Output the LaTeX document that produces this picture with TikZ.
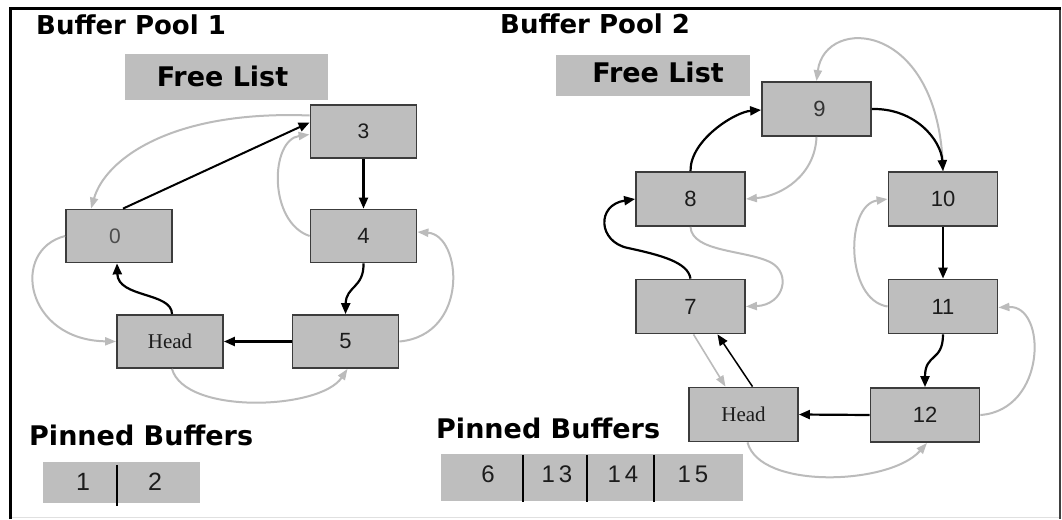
\documentclass[tikz,border=0pt]{standalone}
\usepackage{fontspec}
\setmainfont{Liberation Sans}
\newfontfamily\titlefont{DejaVu Sans}
\newfontfamily\headfont{Liberation Serif}
\usetikzlibrary{arrows.meta,calc}

\definecolor{boxfill}{HTML}{BEBEBE}
\definecolor{boxedge}{HTML}{3C3C3C}
\definecolor{linkgray}{HTML}{BBBBBB}
\definecolor{labelcol}{HTML}{1C1C1C}

\tikzset{
  cell/.style={draw=boxedge, line width=1.8pt, fill=boxfill, inner sep=0pt,
    minimum width=106pt, minimum height=53pt, text=labelcol},
  bigcell/.style={cell, minimum width=109pt, minimum height=54pt},
  panel/.style={fill=boxfill, inner sep=0pt},
  title/.style={anchor=base west, inner sep=0pt,
    font=\titlefont\bfseries\fontsize{26}{30}\selectfont},
  caption/.style={anchor=base west, inner sep=0pt,
    font=\titlefont\bfseries\fontsize{27}{30}\selectfont},
  listlabel/.style={anchor=base, inner sep=0pt,
    font=\titlefont\bfseries\fontsize{27}{30}\selectfont},
  blk/.style={draw=black, line width=2.2pt, -{Triangle[length=11pt,width=9pt]}},
  gry/.style={draw=linkgray, line width=2pt, -{Triangle[length=11pt,width=8pt]}},
  pin/.style={inner sep=0pt, text=labelcol, font=\fontsize{25}{28}\selectfont},
  divider/.style={draw=black, line width=2pt},
  numfont/.style={font=\fontsize{22}{24}\selectfont},
}

\begin{document}
\begin{tikzpicture}[x=1pt,y=-1pt]
  \fill[white] (0,0) rectangle (1062,519);
  \useasboundingbox (0,0) rectangle (1062,519);

  % panel frame
  \draw[black!12, line width=1pt] (10,517.5) -- (1060,517.5);
  \draw[black!75, line width=2pt] (1060,8.5) -- (1060,519);
  \draw[black, line width=3pt] (10,519) -- (10,8.5) -- (1061,8.5);

  % ---------------- Buffer Pool 1 ----------------
  \node[title] (t1) at (36,35) {Buffer Pool 1};
  \node[panel, minimum width=203pt, minimum height=46pt] (fl1) at (226.5,77) {};
  \node[listlabel] at (222.5,86) {Free List};

  \node[cell, font=\fontsize{21}{23}\selectfont] (n3) at (363.5,131.5) {3};
  \node[cell, numfont] (n4) at (363.5,236) {4};
  \node[cell, font=\fontsize{21}{23}\selectfont, text=black!70] (n0) at (119,236) {\kern-8pt 0};
  \node[cell, font=\headfont\fontsize{21}{23}\selectfont] (h1) at (170,341.5) {Head};
  \node[cell, numfont] (n5) at (345.5,341.5) {5};

  % backward (grey) links
  \draw[gry] ($(n3.west)+(0,-16)$) .. controls (170,110) and (105,160) .. ($(n0.north west)+(26,0)$);
  \draw[gry] (n4.west) .. controls (268,222) and (270,140) .. ($(n3.west)+(0,3)$);
  \draw[gry] (n5.east) .. controls (470,335) and (462,235) .. ($(n4.east)+(0,-4)$);
  \draw[gry] ($(h1.south)+(2,0)$) .. controls (185,415) and (320,410) .. ($(n5.south)+(2,0)$);
  \draw[gry] (n0.west) .. controls (10,250) and (25,340) .. (h1.west);

  % forward (black) links
  \draw[blk, line width=2pt] ($(n0.north)+(4,0)$) -- ($(n3.west)+(0,-9)$);
  \draw[blk] (n3.south) -- (n4.north);
  \draw[blk] (n4.south) .. controls (364,288) and (346,286) .. (n5.north);
  \draw[blk] (n5.west) -- (h1.east);
  \draw[blk] ($(h1.north)+(2,0)$) .. controls (172,292) and (118,298) .. ($(n0.south)+(-2,0)$);

  % pinned buffers
  \node[caption] (pb1) at (29,445) {Pinned Buffers};
  \node[panel, minimum width=74pt, minimum height=41pt] (p1a) at (80,482.5) {};
  \node[panel, minimum width=83pt, minimum height=41pt] (p1b) at (158.5,482.5) {};
  \node[pin] at (83,482) {1};
  \node[pin] at (155,482) {2};
  \draw[divider] ($(p1a.north east)+(0,3)$) -- ($(p1a.south east)+(0,3)$);

  % ---------------- Buffer Pool 2 ----------------
  \node[title] (t2) at (500,34) {Buffer Pool 2};
  \node[panel, minimum width=194pt, minimum height=41pt] (fl2) at (653,75.5) {};
  \node[listlabel] at (658,82) {Free List};

  \node[bigcell, numfont, text=black!80] (n9) at (816.5,109) {\kern6pt 9};
  \node[bigcell, numfont] (n8) at (690.5,199) {8};
  \node[bigcell, numfont] (n7) at (690.5,306.5) {7};
  \node[bigcell, font=\headfont\fontsize{21}{23}\selectfont] (h2) at (743.5,414.5) {Head};
  \node[bigcell, numfont] (n12) at (925,415) {12};
  \node[bigcell, numfont] (n11) at (943,306.5) {11};
  \node[bigcell, numfont] (n10) at (943,199) {10};

  % backward (grey) links
  \draw[gry] (n9.south) .. controls (815,175) and (782,196) .. (n8.east);
  \draw[gry] (n8.south) .. controls (692,252) and (745,250) .. (770,262)
                        .. controls (792,273) and (784,305) .. (n7.east);
  \draw[gry] (n10.north) .. controls (940,20) and (825,15) .. (n9.north);
  \draw[gry] (n11.west) .. controls (845,300) and (845,205) .. (n10.west);
  \draw[gry] (n12.east) .. controls (1047,410) and (1047,305) .. ($(n11.east)+(0,1)$);
  \draw[gry] ($(h2.south)+(4,0)$) .. controls (760,490) and (890,485) .. ($(n12.south)+(2,0)$);
  \draw[gry, line width=1.6pt] ($(n7.south)+(3,0)$) -- ($(h2.north)+(-18,0)$);

  % forward (black) links
  \draw[blk] (n8.north) .. controls (690,140) and (735,112) .. ($(n9.west)+(0,1)$);
  \draw[blk] (n9.east) .. controls (915,108) and (941,140) .. (n10.north);
  \draw[blk] (n10.south) -- (n11.north);
  \draw[blk] (n11.south) .. controls (943,362) and (925,353) .. (n12.north);
  \draw[blk] (n12.west) -- (h2.east);
  \draw[blk, line width=1.5pt] ($(h2.north)+(9,0)$) -- ($(n7.south)+(27,0)$);
  \draw[blk] (n7.north) .. controls (688,262) and (660,255) .. (628,248)
                        .. controls (598,242) and (596,205) .. (n8.west);

  % pinned buffers
  \node[caption] (pb2) at (436,438) {Pinned Buffers};
  \node[panel, minimum width=82pt, minimum height=47pt] (p2a) at (482,477.5) {};
  \node[panel, minimum width=64pt, minimum height=47pt] (p2b) at (555,477.5) {};
  \node[panel, minimum width=67pt, minimum height=47pt] (p2c) at (620.5,477.5) {};
  \node[panel, minimum width=89pt, minimum height=47pt] (p2d) at (698.5,477.5) {};
  \node[pin, font=\fontsize{24}{26}\selectfont] at (488,474) {6};
  \node[pin, font=\fontsize{24}{26}\selectfont] at (557,474) {1\kern4pt3};
  \node[pin, font=\fontsize{24}{26}\selectfont] at (623,474) {1\kern4pt4};
  \node[pin, font=\fontsize{24}{26}\selectfont] at (693,474) {1\kern4pt5};
  \draw[divider] ($(p2a.north east)+(0,1)$) -- ($(p2a.south east)+(0,1)$);
  \draw[divider] ($(p2b.north east)+(0,1)$) -- ($(p2b.south east)+(0,1)$);
  \draw[divider] ($(p2c.north east)+(0,1)$) -- ($(p2c.south east)+(0,1)$);
\end{tikzpicture}
\end{document}
